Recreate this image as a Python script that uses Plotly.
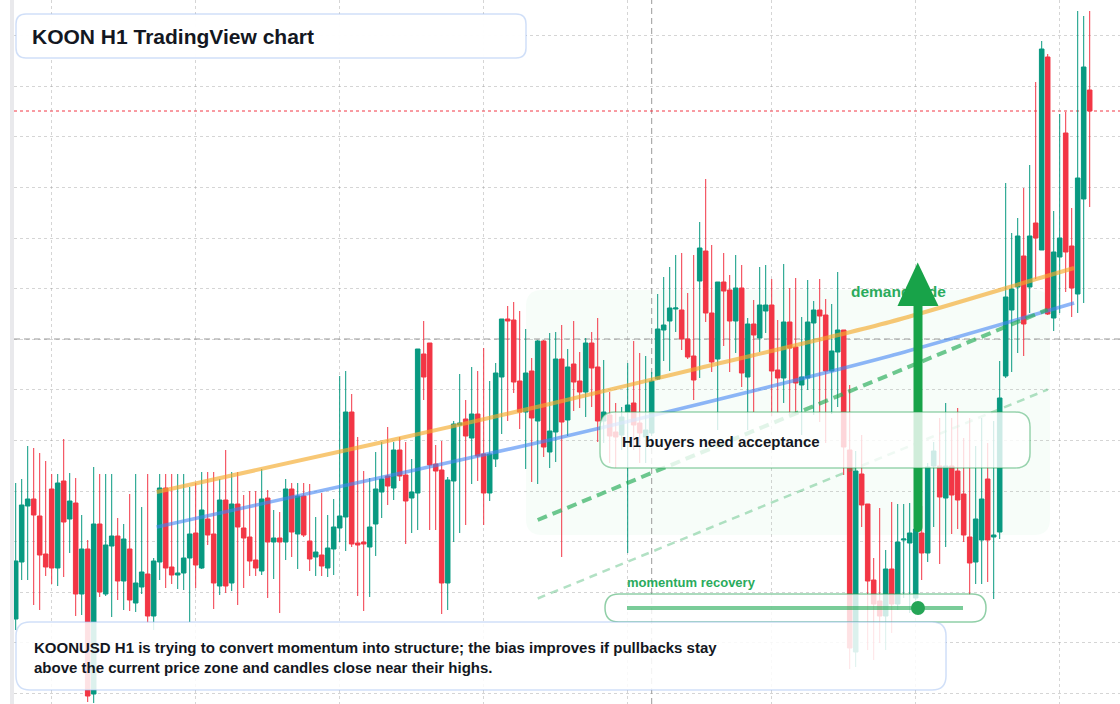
import pandas as pd
import plotly.graph_objects as go

# ---------------- data ----------------
start = pd.Timestamp("2025-01-05 18:00")   # hourly candles (H1)

opens = [0.85,1.42,1.98,2.05,1.88,1.50,2.15,1.36,2.23,1.85,
         2.01,1.10,1.55,0.10,1.80,1.10,1.58,1.68,1.23,1.55,
         1.01,1.17,1.30,0.88,1.42,2.16,1.37,1.29,1.31,1.46,
         1.71,1.36,1.85,1.70,1.18,2.04,1.21,2.00,1.76,1.67,
         1.44,1.33,2.06,1.62,1.66,1.62,2.15,1.70,2.08,1.63,
         1.47,1.49,1.36,1.55,1.76,1.87,2.92,1.61,1.62,1.57,
         1.80,2.12,2.28,2.16,2.54,2.29,2.06,2.11,3.50,3.61,
         2.40,2.34,1.21,2.23,2.79,2.85,2.66,2.90,2.50,2.11,
         2.45,3.27,3.85,3.84,3.23,2.92,3.33,2.83,3.63,2.52,
         2.72,3.45,2.84,3.40,3.23,3.12,3.61,3.37,2.83,2.89,
         2.72,2.69,2.92,3.01,2.81,2.67,2.71,3.25,3.74,3.83,
         3.95,3.94,3.65,3.48,4.23,4.53,3.91,3.45,4.22,4.14,
         3.83,4.16,3.27,3.80,3.66,3.93,3.99,3.34,3.26,3.82,
         3.57,3.19,3.26,3.81,3.94,3.89,3.33,3.52,3.74,2.54,
         0.52,2.30,2.00,1.24,1.03,0.88,1.35,1.00,1.64,1.61,
         1.06,1.71,1.51,2.38,2.38,2.06,2.38,2.33,2.10,1.67,
         1.42,1.64,2.25,1.67,1.72,3.28,3.94,4.17,4.48,4.17,
         4.81,4.54,6.47,3.86,4.47,5.71,4.58,4.10,5.05,6.14]

highs = [2.21,2.25,2.58,2.56,2.51,2.43,2.30,2.30,2.65,2.31,
         2.26,1.89,1.64,2.37,2.30,2.30,2.30,1.86,1.80,2.10,
         2.30,1.97,2.30,1.46,2.30,2.30,2.30,2.30,2.30,2.17,
         2.21,2.32,2.32,2.32,2.25,2.54,2.32,2.32,2.09,2.13,
         2.13,2.35,2.14,1.94,1.92,2.25,2.21,2.21,2.21,2.20,
         1.87,2.11,1.89,2.05,3.28,3.33,3.10,2.67,2.33,2.26,
         2.52,2.62,2.77,2.62,2.67,2.62,2.45,3.55,3.83,3.61,
         2.59,2.63,2.27,2.83,3.30,3.04,3.37,3.33,3.56,3.23,
         3.41,3.85,3.98,4.02,3.93,3.75,3.46,3.64,3.64,3.71,
         3.72,3.79,3.55,3.83,3.52,3.66,3.72,3.86,3.44,3.12,
         3.01,2.97,3.41,3.63,3.51,3.48,3.32,4.10,4.27,4.37,
         4.49,4.51,4.11,4.49,4.82,5.25,4.59,4.22,4.51,4.29,
         4.49,4.39,3.86,4.04,4.37,4.39,4.25,3.84,4.40,4.16,
         4.26,3.87,4.24,4.03,4.25,4.05,4.00,4.32,3.74,3.19,
         2.53,2.69,2.00,1.46,1.96,1.54,2.02,2.00,2.00,2.01,
         1.75,1.98,2.41,2.62,2.86,3.01,2.86,2.96,2.66,2.86,
         2.58,2.86,2.61,2.83,3.43,5.21,4.71,4.86,5.16,5.39,
         6.22,6.63,6.50,4.93,5.90,5.92,4.96,6.93,6.88,6.93]

lows = [0.74,1.24,1.24,0.99,0.94,1.28,1.20,1.18,1.27,1.51,
        0.88,0.89,0.02,0.01,1.07,1.08,0.87,1.04,0.94,0.93,
        0.92,1.10,0.81,0.74,1.24,1.16,1.20,1.15,1.14,0.82,
        1.16,1.35,1.59,0.95,1.09,1.11,1.13,0.99,1.16,1.28,
        1.28,1.29,1.06,1.25,0.91,1.44,1.47,1.35,1.67,1.33,
        1.28,1.28,1.27,1.29,1.62,1.53,1.57,1.08,0.93,1.07,
        1.48,1.86,1.99,2.04,2.23,1.60,1.71,1.74,3.04,1.74,
        1.74,0.90,0.94,1.62,1.71,1.79,2.20,2.23,1.79,2.03,
        2.37,2.70,2.83,3.11,2.75,2.35,2.22,2.20,2.47,2.36,
        2.42,1.47,2.68,2.93,2.96,2.87,2.97,2.62,2.61,2.41,
        2.36,2.54,1.51,2.54,2.41,2.41,2.68,3.24,3.43,3.33,
        3.72,3.54,3.45,3.04,3.26,3.82,3.32,2.74,3.58,3.32,
        3.51,3.17,2.74,2.92,3.52,3.71,2.88,2.91,3.01,2.90,
        2.90,2.69,3.14,2.89,2.82,2.61,2.90,2.97,2.29,0.35,
        0.37,1.77,0.54,0.44,0.61,0.54,0.71,0.94,1.06,0.91,
        1.04,1.24,1.42,1.77,1.40,1.57,1.70,1.75,1.62,1.09,
        1.20,1.20,1.22,1.05,1.65,3.26,3.32,3.51,3.48,3.91,
        4.25,4.54,3.89,3.73,3.91,4.12,3.87,3.91,4.01,4.97]

closes = [1.43,1.99,2.05,1.89,1.49,1.37,1.36,2.21,1.82,2.03,
          1.10,1.55,0.08,1.80,1.12,1.59,1.68,1.23,1.65,1.04,
          1.21,1.32,0.88,1.43,2.16,1.36,1.29,1.31,1.46,1.70,
          1.39,1.94,1.69,1.21,2.04,1.18,2.00,1.77,1.66,1.43,
          1.36,2.05,1.62,1.66,1.62,2.15,1.72,2.08,1.69,1.45,
          1.52,1.38,1.56,1.77,1.88,2.92,1.60,1.59,1.60,1.77,
          2.15,2.25,2.18,2.54,2.28,2.03,2.12,3.55,3.27,2.39,
          2.33,1.21,2.24,2.80,2.81,2.68,2.90,2.48,2.11,2.50,
          3.31,3.85,3.83,3.22,2.92,3.31,2.86,3.63,2.57,2.73,
          3.45,2.82,3.37,3.22,3.12,3.61,3.36,2.83,2.92,2.68,
          2.67,2.87,2.99,2.79,2.71,2.74,3.23,3.75,3.79,3.96,
          3.96,3.65,3.47,3.24,4.56,3.91,3.42,4.22,4.13,3.83,
          4.16,3.31,3.80,3.69,3.99,3.99,3.33,3.26,3.82,3.56,
          3.21,3.27,3.82,3.94,3.88,3.33,3.53,3.74,2.57,0.56,
          2.33,1.99,1.23,1.00,0.88,1.35,1.00,1.62,1.65,1.71,
          1.75,1.51,2.37,2.53,2.07,2.38,2.09,2.04,1.69,1.41,
          1.85,2.05,1.64,1.69,3.06,4.07,4.15,4.68,3.80,4.68,
          4.66,6.55,3.90,4.52,4.66,4.52,4.16,5.26,6.37,5.93]

# trend lines (candle index, price)
fast_idx = [23.5, 59.0, 89.0, 114.0, 145.7, 170.7, 176.4]
fast_val = [2.12, 2.59, 3.00, 3.36, 3.82, 4.26, 4.36]
slow_idx = [23.5, 59.0, 89.0, 114.0, 145.7, 170.7, 176.4]
slow_val = [1.77, 2.24, 2.64, 3.00, 3.48, 3.91, 4.01]
channel_idx = [87.0, 172.0]
channel_upper = [1.84, 3.945]
channel_lower = [1.055, 3.145]
crosshair_idx = 106
crosshair_price = 3.65

TITLE = "KOON H1 TradingView chart"
NOTE = ("KOONUSD H1 is trying to convert momentum into structure; the bias improves if pullbacks stay"
        "<br>above the current price zone and candles close near their highs.")
BOX_LABEL = "H1 buyers need acceptance"
ZONE_LABEL = "demand side"
METER_LABEL = "momentum recovery"

# ---------------- layout helpers ----------------
W, H = 1120, 704
ML = 14
GREEN = "#089981"
RED = "#F23645"
DARK = "#131722"
ZGREEN = "#2aab5c"
FONT = "Liberation Sans, Arial, sans-serif"


def t(i):
    return start + pd.Timedelta(hours=float(i))


def PX(px):
    return (px - ML) / (W - ML)


def PY(py):
    return 1 - py / H


def P(x, y):
    return f"{PX(x):.5f},{PY(y):.5f}"


def rrect(x0, y0, x1, y1, r):
    return (f"M {P(x0 + r, y0)} L {P(x1 - r, y0)} Q {P(x1, y0)} {P(x1, y0 + r)} "
            f"L {P(x1, y1 - r)} Q {P(x1, y1)} {P(x1 - r, y1)} L {P(x0 + r, y1)} "
            f"Q {P(x0, y1)} {P(x0, y1 - r)} L {P(x0, y0 + r)} Q {P(x0, y0)} {P(x0 + r, y0)} Z")


times = [t(i) for i in range(len(opens))]

fig = go.Figure()

fig.add_trace(go.Candlestick(
    x=times, open=opens, high=highs, low=lows, close=closes,
    increasing=dict(line=dict(color=GREEN, width=1), fillcolor=GREEN),
    decreasing=dict(line=dict(color=RED, width=1), fillcolor=RED),
    whiskerwidth=0, showlegend=False, hoverinfo="skip"))

fig.add_trace(go.Scatter(x=[t(i) for i in fast_idx], y=fast_val, mode="lines",
                         line=dict(color="rgba(245,170,45,0.65)", width=4, shape="spline", smoothing=0.8),
                         showlegend=False, hoverinfo="skip"))
fig.add_trace(go.Scatter(x=[t(i) for i in slow_idx], y=slow_val, mode="lines",
                         line=dict(color="rgba(66,133,244,0.6)", width=3.5, shape="spline", smoothing=0.8),
                         showlegend=False, hoverinfo="skip"))
fig.add_trace(go.Scatter(x=[t(i) for i in channel_idx], y=channel_upper, mode="lines",
                         line=dict(color="rgba(34,170,85,0.65)", width=4, dash="10px,6px"),
                         showlegend=False, hoverinfo="skip"))
fig.add_trace(go.Scatter(x=[t(i) for i in channel_idx], y=channel_lower, mode="lines",
                         line=dict(color="rgba(34,170,85,0.35)", width=2.5, dash="8px,6px"),
                         showlegend=False, hoverinfo="skip"))

# demand label drawn as a trace so the arrow shape can sit above it
zone_x = t((851 - 15.7) / 6)
zone_y = (H - 293) / 100
fig.add_trace(go.Scatter(x=[zone_x], y=[zone_y], mode="text", text=[ZONE_LABEL],
                         textposition="middle right",
                         textfont=dict(family=FONT, size=15.5, color=ZGREEN, weight="bold"),
                         showlegend=False, hoverinfo="skip"))

shapes = []
# left strip
shapes.append(dict(type="rect", xref="paper", yref="paper", x0=PX(10), x1=PX(14), y0=0, y1=1,
                   fillcolor="#e9e9ec", line=dict(width=0), layer="below"))
# demand zone background
shapes.append(dict(type="path", xref="paper", yref="paper", path=rrect(526, 290, 1050, 535, 16),
                   fillcolor="rgba(34,197,94,0.035)", line=dict(width=0), layer="below"))
# crosshair
shapes.append(dict(type="line", xref="x", yref="paper", x0=t(crosshair_idx), x1=t(crosshair_idx), y0=0, y1=1,
                   line=dict(color="#9a9a9a", width=1, dash="6px,4px"), layer="below"))
shapes.append(dict(type="line", xref="paper", yref="y", x0=0, x1=1, y0=crosshair_price, y1=crosshair_price,
                   line=dict(color="#9a9a9a", width=1, dash="6px,4px"), layer="below"))
# last price
shapes.append(dict(type="line", xref="paper", yref="y", x0=0, x1=1, y0=closes[-1], y1=closes[-1],
                   line=dict(color=RED, width=1, dash="dot"), layer="below"))
# arrow
ARROW = "#18a349"
shapes.append(dict(type="path", xref="paper", yref="paper",
                   path=(f"M {P(913.5, 300)} L {P(913.5, 527)} Q {P(913.5, 532)} {P(918, 532)} "
                         f"Q {P(922.5, 532)} {P(922.5, 527)} L {P(922.5, 300)} Z"),
                   fillcolor=ARROW, line=dict(width=0), layer="above"))
shapes.append(dict(type="path", xref="paper", yref="paper",
                   path=f"M {P(917.7, 262.5)} L {P(938.5, 306)} L {P(897.5, 306)} Z",
                   fillcolor=ARROW, line=dict(width=0), layer="above"))
# H1 box
shapes.append(dict(type="path", xref="paper", yref="paper", path=rrect(600, 412, 1030, 468, 15),
                   fillcolor="rgba(255,255,255,0.8)", line=dict(color="rgba(34,160,80,0.45)", width=1.5),
                   layer="above"))
# momentum pill
shapes.append(dict(type="path", xref="paper", yref="paper", path=rrect(605, 594, 986, 622, 14),
                   fillcolor="rgba(255,255,255,0.8)", line=dict(color="rgba(34,160,80,0.5)", width=1.5),
                   layer="above"))
shapes.append(dict(type="line", xref="paper", yref="paper", x0=PX(627), x1=PX(963), y0=PY(608), y1=PY(608),
                   line=dict(color="rgba(34,170,85,0.6)", width=4), layer="above"))
shapes.append(dict(type="circle", xref="paper", yref="paper", x0=PX(911), x1=PX(925), y0=PY(615), y1=PY(601),
                   fillcolor="#26a556", line=dict(width=0), layer="above"))
# bottom note box
shapes.append(dict(type="path", xref="paper", yref="paper", path=rrect(16, 622, 946, 690, 14),
                   fillcolor="rgba(255,255,255,0.86)", line=dict(color="rgba(150,185,240,0.45)", width=1.5),
                   layer="above"))
# title box
shapes.append(dict(type="path", xref="paper", yref="paper", path=rrect(16, 14, 526, 58, 10),
                   fillcolor="rgba(255,255,255,0.96)", line=dict(color="rgba(150,185,240,0.45)", width=1.5),
                   layer="above"))

annotations = [
    dict(text=TITLE, x=PX(30), y=PY(36), xref="paper", yref="paper", xanchor="left", yanchor="middle",
         showarrow=False, font=dict(family=FONT, size=21, color=DARK, weight="bold")),
    dict(text=NOTE, x=PX(32), y=PY(657), xref="paper", yref="paper", xanchor="left", yanchor="middle",
         align="left", showarrow=False, font=dict(family=FONT, size=15, color=DARK, weight="bold")),
    dict(text=BOX_LABEL, x=PX(620), y=PY(441.5), xref="paper", yref="paper", xanchor="left", yanchor="middle",
         showarrow=False, font=dict(family=FONT, size=15, color=DARK, weight="bold")),
    dict(text=METER_LABEL, x=PX(625), y=PY(582.5), xref="paper", yref="paper", xanchor="left", yanchor="middle",
         showarrow=False, font=dict(family=FONT, size=13, color=ZGREEN, weight="bold")),
]

GRID = "rgba(150,150,150,0.4)"
fig.update_layout(
    width=W, height=H,
    margin=dict(l=ML, r=0, t=0, b=0),
    paper_bgcolor="white", plot_bgcolor="white",
    showlegend=False, hovermode=False,
    boxmode="overlay", boxgap=0.24, boxgroupgap=0,
    shapes=shapes, annotations=annotations,
    xaxis=dict(type="date", range=[t(-0.283), t(184.05)], showgrid=True, gridcolor=GRID, griddash="dot",
               gridwidth=1, tick0="2025-01-06", dtick=86400000, showticklabels=False, zeroline=False,
               showline=False, ticks="", rangeslider=dict(visible=False), fixedrange=True),
    yaxis=dict(range=[0, 7.04], showgrid=True, gridcolor=GRID, griddash="dot", gridwidth=1,
               tick0=0.106, dtick=0.506, showticklabels=False, zeroline=False, showline=False,
               ticks="", fixedrange=True),
)

fig.write_html("out.html", config={"displayModeBar": False})
